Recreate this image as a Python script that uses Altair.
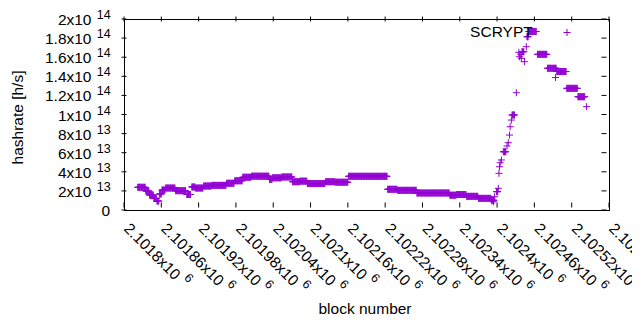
import altair as alt
import pandas as pd

series_name = "SCRYPT"

# constant-hashrate stretches: first block, last block, hashrate (x1e13 h/s)
run_start = [2101822, 2101835, 2101841, 2101848, 2101853, 2101857, 2101861, 2101867, 2101883, 2101901,
             2101909, 2101915, 2101928, 2101941, 2101965, 2101978, 2101991, 2102005, 2102034, 2102039,
             2102054, 2102071, 2102083, 2102095, 2102124, 2102140, 2102161, 2102224, 2102240, 2102271,
             2102324, 2102335, 2102351, 2102370, 2102391, 2102399, 2102410, 2102424, 2102440, 2102448,
             2102451, 2102465, 2102481, 2102496, 2102512, 2102530]
run_end = [2101834, 2101840, 2101847, 2101852, 2101856, 2101860, 2101866, 2101882, 2101899, 2101907,
           2101914, 2101927, 2101940, 2101964, 2101977, 2101990, 2102004, 2102033, 2102038, 2102053,
           2102070, 2102082, 2102094, 2102123, 2102139, 2102160, 2102223, 2102239, 2102270, 2102323,
           2102334, 2102350, 2102369, 2102390, 2102395, 2102401, 2102414, 2102428, 2102443, 2102450,
           2102463, 2102480, 2102495, 2102511, 2102529, 2102541]
run_rate = [2.38, 1.99, 1.57, 1.20, 0.94, 1.68, 2.09, 2.30, 2.02, 1.62,
            2.41, 2.30, 2.51, 2.58, 2.80, 3.06, 3.43, 3.54, 3.21, 3.37,
            3.46, 2.96, 3.02, 2.77, 2.96, 2.91, 3.53, 2.17, 2.06, 1.78,
            1.55, 1.62, 1.43, 1.22, 1.02, 1.92, 6.10, 9.95, 16.57, 18.14,
            18.69, 16.30, 14.84, 14.50, 12.74, 11.86]

# isolated blocks
single_block = [2102394, 2102396, 2102402, 2102403, 2102404, 2102405, 2102407, 2102416, 2102418, 2102420,
                2102421, 2102423, 2102431, 2102435, 2102436, 2102438, 2102439, 2102444, 2102447, 2102494,
                2102544]
single_rate = [0.87, 1.39, 2.27, 3.84, 4.53, 4.95, 5.24, 6.70, 7.05, 7.85,
               8.72, 9.42, 12.28, 16.51, 16.05, 16.30, 15.88, 15.53, 17.10, 13.87,
               10.82]

x_ticks = [2101800, 2101860, 2101920, 2101980, 2102040, 2102100, 2102160,
           2102220, 2102280, 2102340, 2102400, 2102460, 2102520, 2102580]
x_mant = ["2.1018x10", "2.10186x10", "2.10192x10", "2.10198x10", "2.10204x10", "2.1021x10", "2.10216x10",
          "2.10222x10", "2.10228x10", "2.10234x10", "2.1024x10", "2.10246x10", "2.10252x10", "2.10258x10"]
x_exp = ["6"] * len(x_ticks)

y_ticks = [0, 2e13, 4e13, 6e13, 8e13, 1e14, 1.2e14, 1.4e14, 1.6e14, 1.8e14, 2e14]
y_mant = ["0", "2x10", "4x10", "6x10", "8x10", "1x10", "1.2x10", "1.4x10", "1.6x10", "1.8x10", "2x10"]
y_exp = ["", "13", "13", "13", "13", "14", "14", "14", "14", "14", "14"]

W, H = 485, 191
PURPLE = "#9400d3"
INK = "#000000"
FONT = "Liberation Sans"
FS = 15.5
EFS = 12.5
TICK = 5
PLUS = "M-1,0L1,0M0,-1L0,1"

xs = alt.Scale(domain=[x_ticks[0], x_ticks[-1]], nice=False, zero=False)
ys = alt.Scale(domain=[y_ticks[0], y_ticks[-1]], nice=False)

x_axis = alt.Axis(
    title="block number", labels=False, ticks=False, domain=False, grid=False,
    titleFont=FONT, titleFontSize=FS, titleFontWeight="normal", titleColor=INK,
    titleX=W / 2 - 2, titleY=98, titleBaseline="middle", titleAlign="center")
y_axis = alt.Axis(
    title="hashrate [h/s]", labels=False, ticks=False, domain=False, grid=False,
    titleFont=FONT, titleFontSize=FS, titleFontWeight="normal", titleColor=INK,
    titleX=-107, titleY=98, titleAngle=270, titleBaseline="middle", titleAlign="center")

rows = []
for s, e, r in zip(run_start, run_end, run_rate):
    for b in range(s, e + 1):
        rows.append((b, r * 1e13))
for b, r in zip(single_block, single_rate):
    rows.append((b, r * 1e13))
pts = pd.DataFrame(rows, columns=["block", "hashrate"])

points = alt.Chart(pts).mark_point(
    shape=PLUS, size=49, filled=False, strokeWidth=1, color=PURPLE, opacity=1
).encode(
    x=alt.X("block:Q", scale=xs, axis=x_axis),
    y=alt.Y("hashrate:Q", scale=ys, axis=y_axis),
)

xt = pd.DataFrame({"tick": x_ticks, "mant": x_mant, "exp": x_exp})
yt = pd.DataFrame({"tick": y_ticks, "mant": y_mant, "exp": y_exp})
one = pd.DataFrame({"k": [0]})

# plot frame as thin filled bars
fr = dict(color=INK, opacity=1, strokeWidth=0)
frame_l = alt.Chart(one).mark_rect(**fr).encode(
    x=alt.value(0), x2=alt.value(1), y=alt.value(0), y2=alt.value(H + 1))
frame_r = alt.Chart(one).mark_rect(**fr).encode(
    x=alt.value(W), x2=alt.value(W + 1), y=alt.value(0), y2=alt.value(H + 1))
frame_t = alt.Chart(one).mark_rect(**fr).encode(
    x=alt.value(0), x2=alt.value(W + 1), y=alt.value(0), y2=alt.value(1))
frame_b = alt.Chart(one).mark_rect(**fr).encode(
    x=alt.value(0), x2=alt.value(W + 1), y=alt.value(H), y2=alt.value(H + 1))

# inward tick marks on all four sides
tk = dict(color=INK, opacity=1, thickness=1, size=TICK)
bottom_t = alt.Chart(xt).mark_tick(orient="vertical", **tk).encode(
    x=alt.X("tick:Q", scale=xs, axis=x_axis), y=alt.value(H - TICK))
top_t = alt.Chart(xt).mark_tick(orient="vertical", **tk).encode(
    x=alt.X("tick:Q", scale=xs, axis=x_axis), y=alt.value(0))
left_t = alt.Chart(yt).mark_tick(orient="horizontal", **tk).encode(
    y=alt.Y("tick:Q", scale=ys, axis=y_axis), x=alt.value(0))
right_t = alt.Chart(yt).mark_tick(orient="horizontal", **tk).encode(
    y=alt.Y("tick:Q", scale=ys, axis=y_axis), x=alt.value(W - TICK))


def text_w(s, fs):
    w = {".": 0.278, "x": 0.5}
    return sum(w.get(c, 0.556) for c in s) * fs


xt["dx"] = [round(text_w(m, FS) + 5.0, 1) for m in x_mant]

txt = dict(font=FONT, color=INK)
xlab = alt.Chart(xt).mark_text(angle=45, align="left", baseline="middle", fontSize=FS,
                               dx=1.8, dy=-1.8, **txt).encode(
    x=alt.X("tick:Q", scale=xs, axis=x_axis), y=alt.value(H + 16), text="mant:N")
xexp_layers = []
for dxv in sorted(set(xt["dx"])):
    xexp_layers.append(
        alt.Chart(xt[xt["dx"] == dxv]).mark_text(angle=45, align="left", baseline="middle", fontSize=EFS,
                                                 dx=dxv + 1.8, dy=-8.8, **txt).encode(
            x=alt.X("tick:Q", scale=xs, axis=x_axis), y=alt.value(H + 16), text="exp:N"))

yt_e = yt[yt["exp"] != ""]
yt_z = yt[yt["exp"] == ""]
ylab = alt.Chart(yt_e).mark_text(align="right", baseline="middle", fontSize=FS, dy=1, **txt).encode(
    y=alt.Y("tick:Q", scale=ys, axis=y_axis), x=alt.value(-32.5), text="mant:N")
yexp = alt.Chart(yt_e).mark_text(align="left", baseline="middle", fontSize=EFS, dy=-4, **txt).encode(
    y=alt.Y("tick:Q", scale=ys, axis=y_axis), x=alt.value(-27.3), text="exp:N")
yzero = alt.Chart(yt_z).mark_text(align="right", baseline="middle", fontSize=FS, dy=1, **txt).encode(
    y=alt.Y("tick:Q", scale=ys, axis=y_axis), x=alt.value(-13.8), text="mant:N")

lg = pd.DataFrame({"name": [series_name]})
ltext = alt.Chart(lg).mark_text(align="right", baseline="middle", fontSize=FS, **txt).encode(
    x=alt.value(408.7), y=alt.value(12.7), text="name:N")
lsym = alt.Chart(lg).mark_point(shape=PLUS, size=49, filled=False, strokeWidth=1, color=PURPLE,
                                opacity=1).encode(x=alt.value(443), y=alt.value(13.5))

chart = alt.layer(
    frame_l, frame_r, frame_t, frame_b, points, bottom_t, top_t, left_t, right_t,
    xlab, *xexp_layers, ylab, yexp, yzero, ltext, lsym
).properties(
    width=W, height=H,
    padding={"left": 116, "top": 11, "right": 23, "bottom": 112},
    autosize="none",
).configure(background="white").configure_view(stroke=INK, strokeWidth=1)

chart.save("out.html", embed_options={"renderer": "svg", "actions": False})
